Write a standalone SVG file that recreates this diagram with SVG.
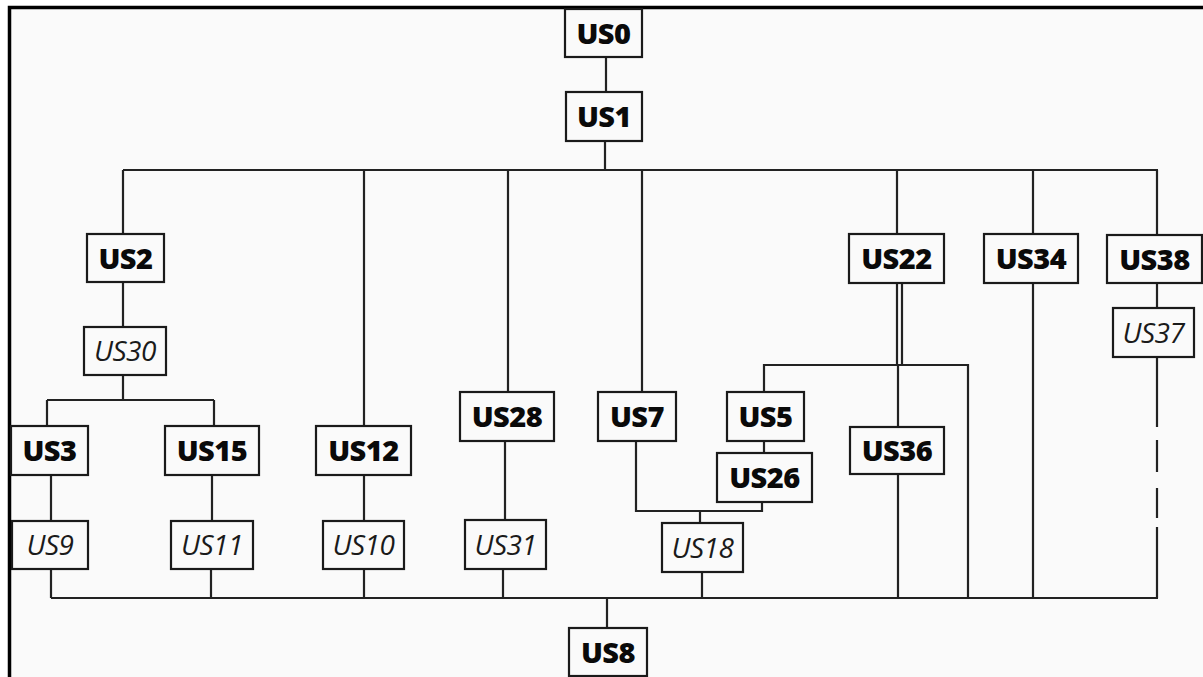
<svg xmlns="http://www.w3.org/2000/svg" width="1203" height="677" viewBox="0 0 1203 677">
<style>
.bx{fill:#fafafa;stroke:#1a1a1a;stroke-width:2.2}
.b{font-family:"Open Sans","Noto Sans",sans-serif;font-weight:800;font-size:29px;letter-spacing:-0.5px;fill:#0a0a0a;text-anchor:middle}
.i{font-family:"Open Sans","Noto Sans",sans-serif;font-style:italic;font-size:28px;letter-spacing:-0.5px;fill:#1a1a1a;text-anchor:middle}
.c{stroke:#222;stroke-width:2.2;fill:none}
</style>
<rect x="0" y="0" width="1203" height="677" fill="#ffffff"/>
<rect x="9" y="7" width="1194" height="670" fill="#fafafa"/>
<path d="M9.5 677 V7.5 H1203" stroke="#000" stroke-width="3.5" fill="none"/>
<g id="connectors" class="c">
<path d="M606 57 V92 M605 141 V170"/>
<path d="M123 170 H1158"/>
<path d="M123 170 V234 M123 282 V327 M123 375 V400 M47 400 H214 M47 400 V426 M214 400 V426"/>
<path d="M51 475 V521 M212 475 V521 M364 170 V426 M364 475 V521"/>
<path d="M508 170 V392 M505 441 V520 M642 170 V392"/>
<path d="M636 441 V511 H762 V502 M700 511 V523"/>
<path d="M897 170 V234 M897 283 V365 M902 283 V365 M764 392 V365 H968 V598 M898 365 V427 M898 474 V598"/>
<path d="M764 441 V453"/>
<path d="M1033 170 V234 M1033 283 V598"/>
<path d="M1157 170 V235 M1157 283 V308 M1157 357 V427 M1157 440 V472 M1157 488 V518 M1157 527 V598"/>
<path d="M51 569 V598 M211 569 V598 M364 569 V598 M503 569 V598 M702 572 V598"/>
<path d="M51 598 H1158 M607 598 V628"/>
</g>
<g id="US0"><rect class="bx" x="565" y="9" width="77" height="48"/><text class="b" x="603.5" y="43.5">US0</text></g>
<g id="US1"><rect class="bx" x="566" y="92" width="76" height="49"/><text class="b" x="604" y="127">US1</text></g>
<g id="US2"><rect class="bx" x="87" y="234" width="77" height="48"/><text class="b" x="125.5" y="268.5">US2</text></g>
<g id="US30"><rect class="bx" x="84" y="327" width="82" height="48"/><text class="i" x="125" y="361">US30</text></g>
<g id="US3"><rect class="bx" x="11" y="426" width="77" height="49"/><text class="b" x="49.5" y="461">US3</text></g>
<g id="US15"><rect class="bx" x="165" y="426" width="94" height="49"/><text class="b" x="212" y="461">US15</text></g>
<g id="US12"><rect class="bx" x="316" y="426" width="95" height="49"/><text class="b" x="363.5" y="461">US12</text></g>
<g id="US9"><rect class="bx" x="12" y="521" width="76" height="48"/><text class="i" x="50" y="555">US9</text></g>
<g id="US11"><rect class="bx" x="171" y="521" width="82" height="48"/><text class="i" x="212" y="555">US11</text></g>
<g id="US10"><rect class="bx" x="323" y="521" width="81" height="48"/><text class="i" x="363.5" y="555">US10</text></g>
<g id="US28"><rect class="bx" x="460" y="392" width="94" height="49"/><text class="b" x="507" y="427">US28</text></g>
<g id="US7"><rect class="bx" x="598" y="392" width="78" height="49"/><text class="b" x="637" y="427">US7</text></g>
<g id="US5"><rect class="bx" x="727" y="392" width="77" height="49"/><text class="b" x="765.5" y="427">US5</text></g>
<g id="US26"><rect class="bx" x="717" y="453" width="95" height="49"/><text class="b" x="764.5" y="488">US26</text></g>
<g id="US31"><rect class="bx" x="465" y="520" width="81" height="49"/><text class="i" x="505.5" y="554.5">US31</text></g>
<g id="US18"><rect class="bx" x="662" y="523" width="81" height="49"/><text class="i" x="702.5" y="557.5">US18</text></g>
<g id="US22"><rect class="bx" x="849" y="234" width="95" height="49"/><text class="b" x="896.5" y="269">US22</text></g>
<g id="US34"><rect class="bx" x="984" y="234" width="94" height="49"/><text class="b" x="1031" y="269">US34</text></g>
<g id="US38"><rect class="bx" x="1107" y="235" width="95" height="48"/><text class="b" x="1154.5" y="269.5">US38</text></g>
<g id="US37"><rect class="bx" x="1113" y="308" width="81" height="49"/><text class="i" x="1153.5" y="342.5">US37</text></g>
<g id="US36"><rect class="bx" x="850" y="427" width="94" height="47"/><text class="b" x="897" y="461">US36</text></g>
<g id="US8"><rect class="bx" x="569" y="628" width="78" height="48"/><text class="b" x="608" y="662.5">US8</text></g>
</svg>
